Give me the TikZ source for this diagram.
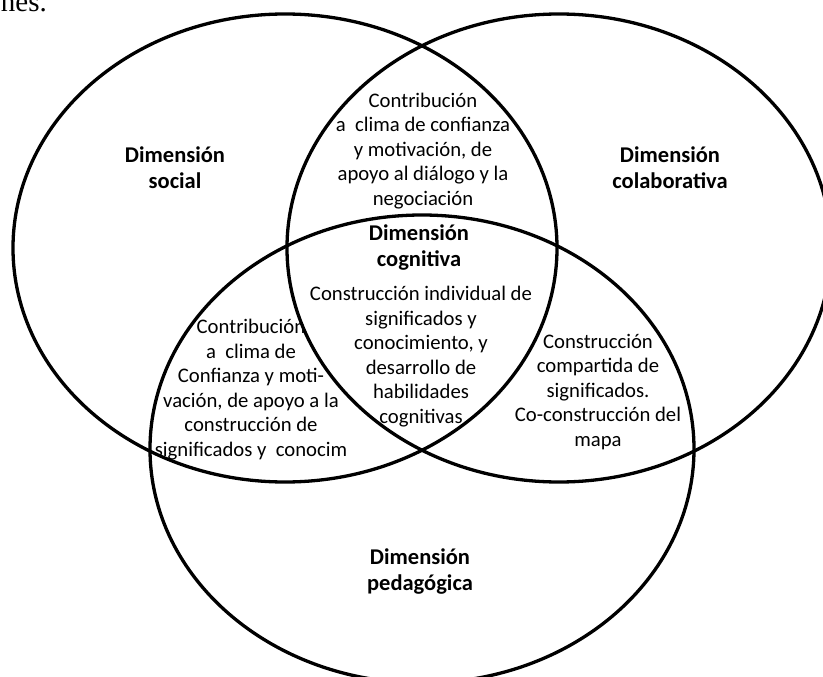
\documentclass[tikz,border=0pt]{standalone}
\usepackage{fontspec}
\setmainfont{Carlito}
\newfontfamily\bodyserif{Liberation Serif}
\begin{document}
\begin{tikzpicture}[x=1pt,y=-1pt,
  ring/.style={draw=black,line width=3.3pt},
  dimlabel/.style={font=\bfseries\fontsize{22.5pt}{26pt}\selectfont,align=center,inner sep=0pt,anchor=base},
  note/.style={font=\fontsize{20.7pt}{24.5pt}\selectfont,align=center,inner sep=0pt,anchor=base}]
\useasboundingbox (0,0) rectangle (823,677);

% end of the running sentence above the figure (base anchor = last line)
\node[font=\bodyserif\fontsize{29pt}{32pt}\selectfont,anchor=base east,inner sep=0pt] (tail) at (47,12) {nes.};

% dimension labels
\node[dimlabel] (social) at (175,188) {Dimensión\\social};
\node[dimlabel] (colab) at (670,188) {Dimensión\\colaborativa};
\node[dimlabel] (cogn) at (419,266) {Dimensión\\cognitiva};
\node[dimlabel] (ped) at (420,590) {Dimensión\\pedagógica};

% texts of the overlaps
\node[note] (soccol) at (423,205) {Contribución\\a\ \ clima de confianza\\y motivación, de\\apoyo al diálogo y la\\negociación};
\node[note] (center) at (421,423) {Construcción individual de\\significados y\\conocimiento, y\\desarrollo de\\habilidades\\cognitivas};
\node[note] (socped) at (251,456) {Contribución\\a\ \ clima de\\Confianza y moti-\\vación, de apoyo a la\\construcción de\\significados y\ \ conocim};
\node[note] (colped) at (598,446) {Construcción\\compartida de\\significados.\\Co-construcción del\\mapa};

% the three ellipses
\draw[ring] (285,248) ellipse [x radius=272, y radius=234];
\draw[ring] (559,248) ellipse [x radius=272, y radius=234];
\draw[ring] (422,449) ellipse [x radius=272, y radius=234];
\end{tikzpicture}
\end{document}
